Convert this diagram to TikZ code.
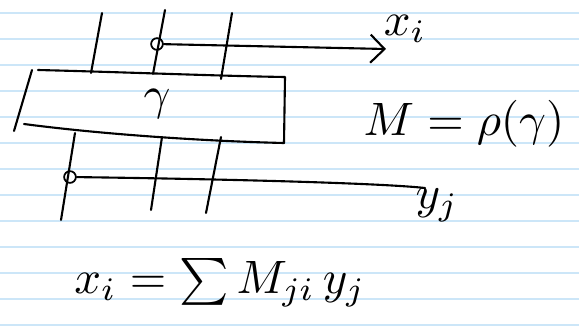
\documentclass[tikz,border=0pt]{standalone}
\usetikzlibrary{arrows.meta}
\definecolor{rule}{RGB}{204,230,248}
\begin{document}
\begin{tikzpicture}[x=0.03cm,y=-0.03cm,
  ink/.style={line width=1.8pt,line cap=round,line join=round},
  ruling/.style={rule,line width=1.4pt},
  tap/.style={circle,draw,line width=1.5pt,inner sep=0pt,minimum size=10pt},
  hand/.style={inner sep=0pt,scale=4}]
\useasboundingbox[fill=white] (0,0) rectangle (579,327);
\foreach \y in {13,39,...,325} \draw[ruling] (0,\y)--(579,\y);
\node[tap] (xdot) at (157,44) {};
\node[tap] (ydot) at (70,177) {};
\coordinate (xend) at (386,49);
\coordinate (yend) at (425,188);
\draw[ink] (102,13)--(91,73);
\draw[ink] (165,10)--(153,74);
\draw[ink] (232,13)--(221,79);
\draw[ink] (75,133)--(61,220);
\draw[ink] (162,137)--(151,210);
\draw[ink] (221,137)--(206,213);
\draw[ink] (38,70) .. controls (120,72) and (220,76) .. (285,77) -- (284,143)
  .. controls (200,141) and (100,134) .. (24,124);
\draw[ink] (32,70)--(14,131);
\node[hand] (gam) at (157,104) {$\gamma$};
\draw[ink,-{Straight Barb[length=12pt,width=24pt]}] (xdot) -- (xend);
\draw[ink] (ydot) .. controls (220,179) and (380,183) .. (yend);
\node[hand] (xi) at (405,29) {$x_i$};
\node[hand] (yj) at (437,205) {$y_j$};
\node[hand] (meq) at (464,124) {$M=\rho(\gamma)$};
\node[hand] (sum) at (220,283) {$x_i=\sum M_{ji}\,y_j$};
\end{tikzpicture}
\end{document}
